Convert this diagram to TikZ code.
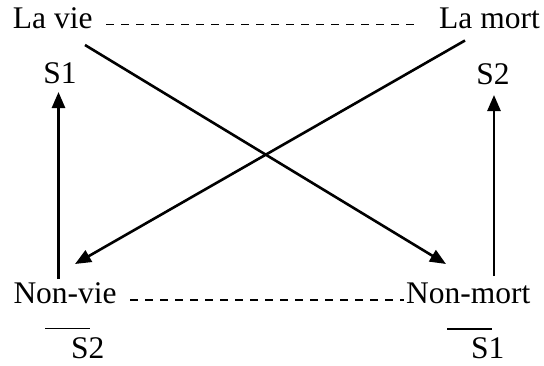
\documentclass[tikz,border=0pt]{standalone}
\usepackage{fontspec}
\setmainfont{Liberation Serif}
\usetikzlibrary{arrows.meta}
\begin{document}
\begin{tikzpicture}[x=1pt,y=-1pt,
  lbl/.style={inner sep=0pt, font=\fontsize{31.5}{36}\selectfont},
  arr/.style={line width=2.6pt, -{Triangle[length=16pt,width=13pt]}},
  dashline/.style={line width=1.8pt, dash pattern=on 8pt off 7pt},
  bar/.style={line width=1.5pt}]
\useasboundingbox (0,0) rectangle (544,365);
% text nodes
\node[lbl, anchor=base west] (lavie) at (12.7,28.3) {La vie};
\node[lbl, anchor=base east] (lamort) at (540,28.3) {La mort};
\node[lbl, anchor=base] (s1) at (60,83.5) {S1};
\node[lbl, anchor=base] (s2) at (493,84.5) {S2};
\node[lbl, anchor=base west] (nonvie) at (13.3,303.5) {Non-vie};
\node[lbl, anchor=base west] (nonmort) at (406,303.5) {Non-mort};
\node[lbl, anchor=base west] (ns2) at (71,358) {S2};
\node[lbl, anchor=base west] (ns1) at (471,358) {S1};
% connector end points
\coordinate (d1a) at (106,24.5);
\coordinate (d1b) at (420,24.5);
\coordinate (d2a) at (130,300);
\coordinate (d2b) at (404,300);
\coordinate (c1a) at (85,45);
\coordinate (c1b) at (446,264);
\coordinate (c2a) at (465,40.5);
\coordinate (c2b) at (75,264);
\coordinate (v1a) at (58.5,279);
\coordinate (v1b) at (58.5,92);
\coordinate (v2a) at (494,276);
\coordinate (v2b) at (494,95);
% dashed lines
\draw[dashline] (d1a) -- (d1b);
\draw[dashline] (d2a) -- (d2b);
% crossing arrows
\draw[arr] (c1a) -- (c1b);
\draw[arr] (c2a) -- (c2b);
% vertical arrows
\draw[arr] (v1a) -- (v1b);
\draw[arr] (v2a) -- (v2b);
% overlines
\draw[bar] (45,328.5) -- (90,328.5);
\draw[bar] (447,329) -- (492,329);
\end{tikzpicture}
\end{document}
